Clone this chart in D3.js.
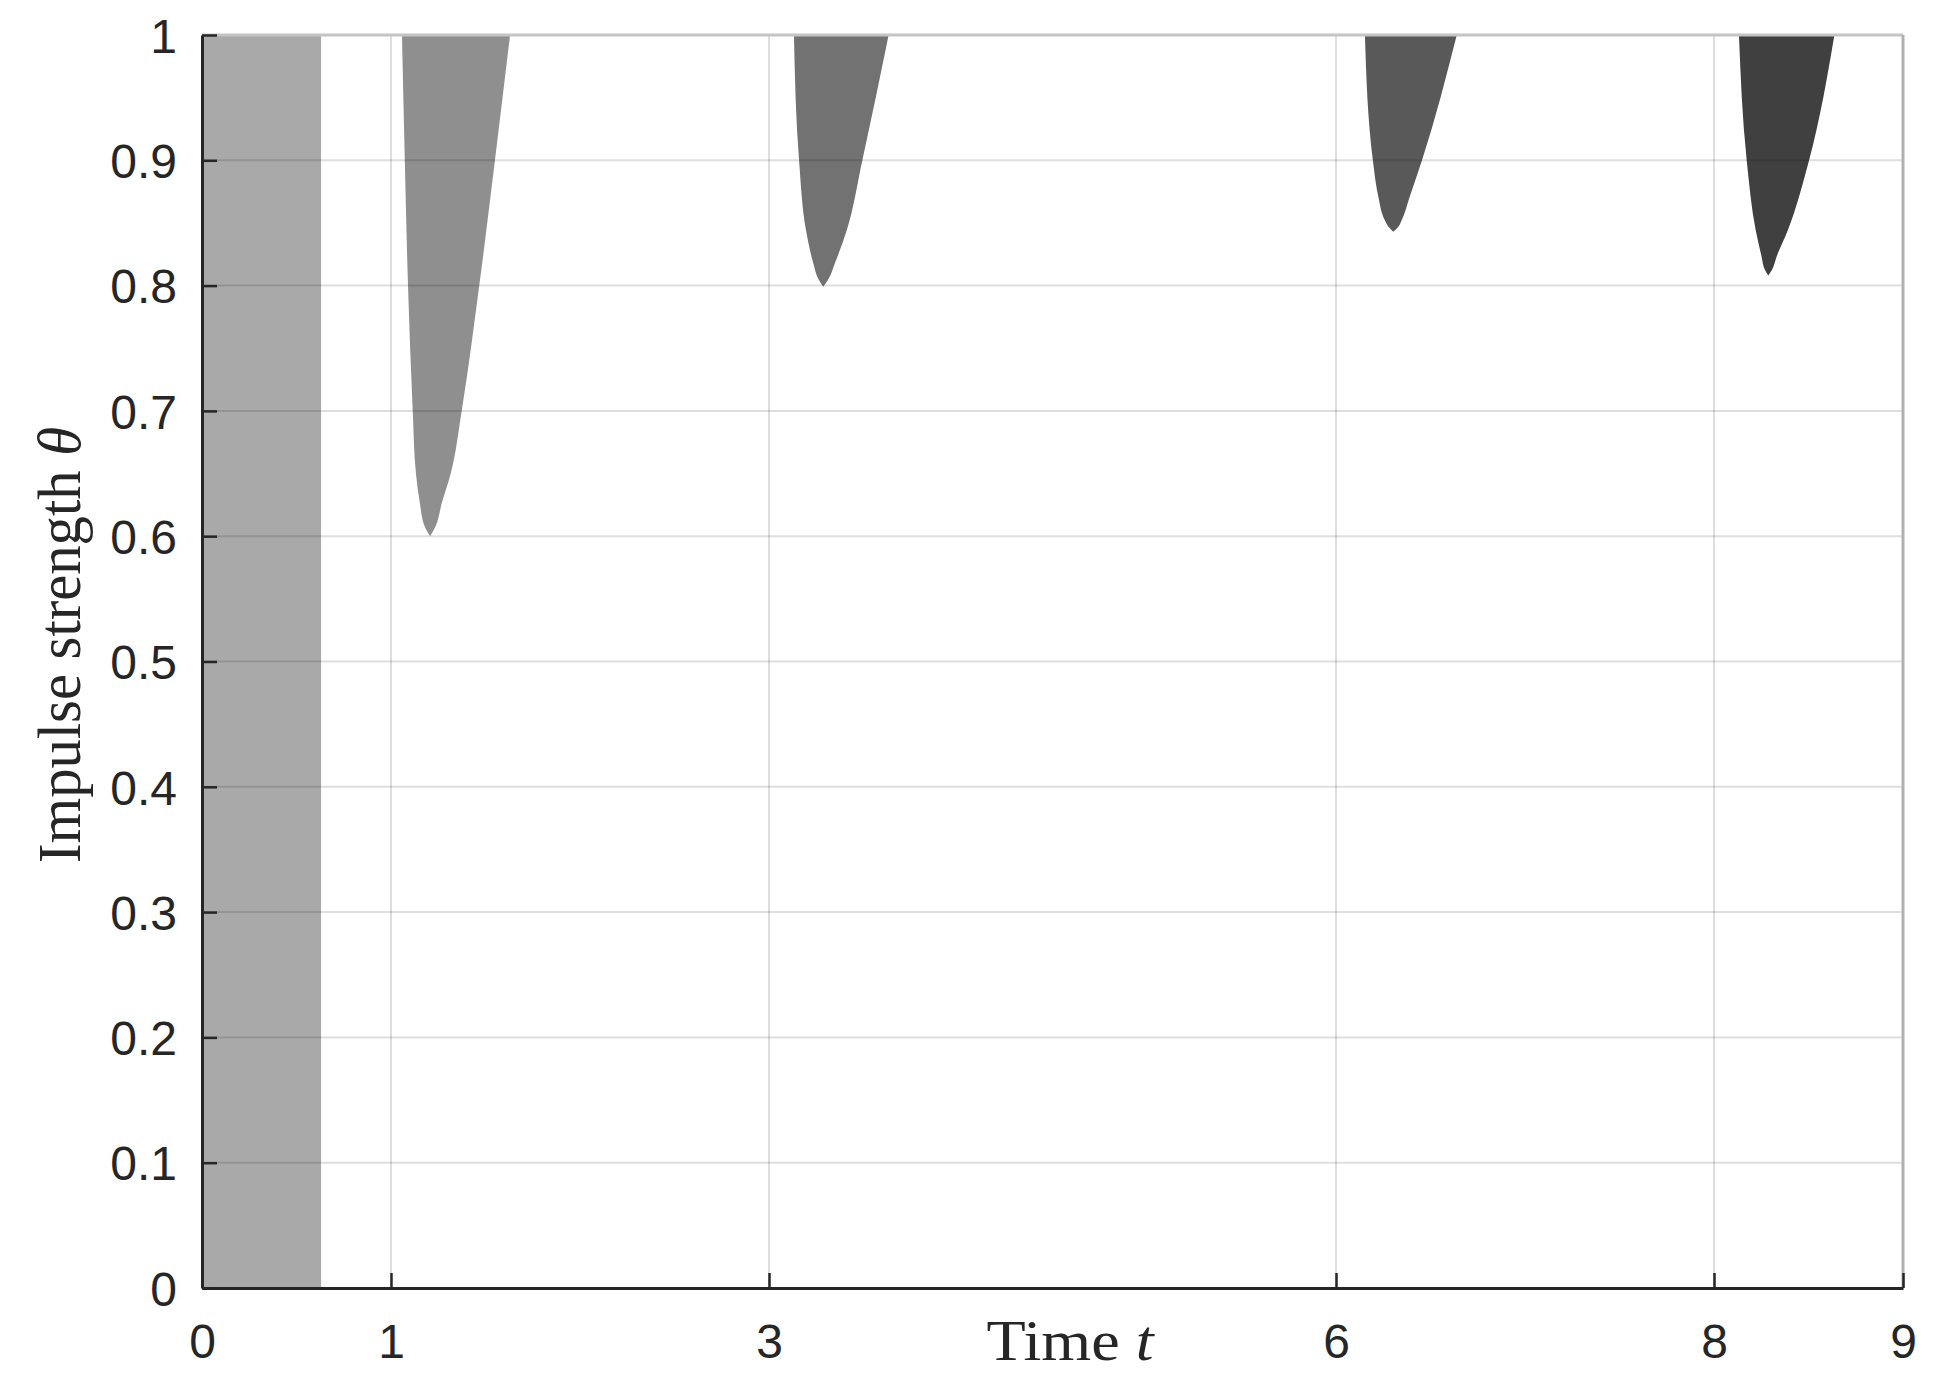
<!DOCTYPE html>
<html>
<head>
<meta charset="utf-8">
<script src="https://cdn.jsdelivr.net/npm/d3@7"></script>
<style>
  body { margin: 0; background: #fff; }
</style>
</head>
<body>
<svg width="1948" height="1396"></svg>
<script>
// tick values
let xTicks = [0, 1, 3, 6, 8, 9]
let yTicks = [0, 0.1, 0.2, 0.3, 0.4, 0.5, 0.6, 0.7, 0.8, 0.9, 1]

// first region: full strip from t=0
let stripT = [0, 0.63]
let stripTheta = [0, 1]

// tongue regions: theta levels (top to tip) with left and right boundary in t
let tongue1Theta = [1.0, 0.9, 0.8, 0.7, 0.65, 0.626, 0.608, 0.6]
let tongue1Left = [1.058, 1.073, 1.090, 1.115, 1.132, 1.153, 1.178, 1.207]
let tongue1Right = [1.630, 1.550, 1.467, 1.374, 1.316, 1.268, 1.236, 1.207]

let tongue2Theta = [1.0, 0.9, 0.844, 0.818, 0.805, 0.799]
let tongue2Left = [3.132, 3.159, 3.196, 3.234, 3.262, 3.287]
let tongue2Right = [3.633, 3.494, 3.411, 3.349, 3.314, 3.287]

let tongue3Theta = [1.0, 0.9, 0.871, 0.852, 0.847, 0.843]
let tongue3Left = [6.153, 6.195, 6.224, 6.259, 6.278, 6.303]
let tongue3Right = [6.639, 6.455, 6.390, 6.347, 6.330, 6.303]

let tongue4Theta = [1.0, 0.9, 0.844, 0.823, 0.813, 0.808]
let tongue4Left = [8.132, 8.173, 8.221, 8.252, 8.268, 8.287]
let tongue4Right = [8.637, 8.503, 8.390, 8.331, 8.308, 8.287]

let tongueColors = ['#8f8f8f', '#727272', '#595959', '#404040']

let svg = d3.select('svg')
let pLeft = 202, pRight = 1903, pTop = 35, pBottom = 1288

let x = d3.scaleLinear().domain([0, 9]).range([pLeft, pRight])
let y = d3.scaleLinear().domain([0, 1]).range([pBottom, pTop])

svg.append('rect')
  .attr('width', 1948).attr('height', 1396).attr('fill', '#fff')

// strip
svg.append('rect')
  .attr('x', x(stripT[0]))
  .attr('y', y(stripTheta[1]))
  .attr('width', x(stripT[1]) - x(stripT[0]))
  .attr('height', y(stripTheta[0]) - y(stripTheta[1]))
  .attr('fill', '#a9a9a9')

// tongues as areas between left and right edge, theta on the vertical
let tongues = [
  [tongue1Theta, tongue1Left, tongue1Right],
  [tongue2Theta, tongue2Left, tongue2Right],
  [tongue3Theta, tongue3Left, tongue3Right],
  [tongue4Theta, tongue4Left, tongue4Right]
]
let area = d3.area()
  .y(function (d) { return y(d[0]) })
  .x0(function (d) { return x(d[1]) })
  .x1(function (d) { return x(d[2]) })
  .curve(d3.curveMonotoneY)

tongues.forEach(function (tg, i) {
  let rows = tg[0].map(function (th, k) { return [th, tg[1][k], tg[2][k]] })
  svg.append('path')
    .attr('d', area(rows))
    .attr('fill', tongueColors[i])
})

// grid, drawn on top like matlab does
let grid = svg.append('g')
  .attr('stroke', '#000')
  .attr('stroke-opacity', 0.13)
  .attr('stroke-width', 2)
grid.selectAll('.gx')
  .data(xTicks.slice(1, -1))
  .enter()
  .append('line')
  .attr('x1', function (d) { return x(d) })
  .attr('x2', function (d) { return x(d) })
  .attr('y1', pTop).attr('y2', pBottom)
grid.selectAll('.gy')
  .data(yTicks.slice(1, -1))
  .enter()
  .append('line')
  .attr('y1', function (d) { return y(d) })
  .attr('y2', function (d) { return y(d) })
  .attr('x1', pLeft).attr('x2', pRight)

// light box on top and right
svg.append('line')
  .attr('x1', pLeft).attr('x2', pRight)
  .attr('y1', pTop).attr('y2', pTop)
  .attr('stroke', '#c4c4c4').attr('stroke-width', 3)
svg.append('line')
  .attr('x1', pRight).attr('x2', pRight)
  .attr('y1', pTop).attr('y2', pBottom)
  .attr('stroke', '#b0b0b0').attr('stroke-width', 3)

// axes with inward ticks
let xAxis = d3.axisBottom(x)
  .tickValues(xTicks)
  .tickSizeInner(-15)
  .tickSizeOuter(0)
  .tickPadding(0)
  .tickFormat(d3.format('d'))
let gx = svg.append('g')
  .attr('transform', 'translate(0,' + pBottom + ')')
  .call(xAxis)
gx.select('.domain').attr('stroke', '#262626').attr('stroke-width', 3)
gx.selectAll('.tick line').attr('stroke', '#262626').attr('stroke-width', 2.5)
gx.selectAll('.tick text')
  .attr('y', 70).attr('dy', 0)
  .attr('fill', '#262626')
  .style('font-family', '"Liberation Sans", Arial, sans-serif')
  .style('font-size', '48px')

let yAxis = d3.axisLeft(y)
  .tickValues(yTicks)
  .tickSizeInner(-15)
  .tickSizeOuter(0)
  .tickPadding(0)
  .tickFormat(function (d) { return d === 0 || d === 1 ? String(d) : d3.format('.1f')(d) })
let gy = svg.append('g')
  .attr('transform', 'translate(' + pLeft + ',0)')
  .call(yAxis)
gy.select('.domain').attr('stroke', '#262626').attr('stroke-width', 3)
gy.selectAll('.tick line').attr('stroke', '#262626').attr('stroke-width', 2.5)
gy.selectAll('.tick text')
  .attr('x', -25).attr('dy', '0.36em')
  .attr('fill', '#262626')
  .style('font-family', '"Liberation Sans", Arial, sans-serif')
  .style('font-size', '48px')

// axis titles
let xl = svg.append('text')
  .attr('x', 1070)
  .attr('y', 1360)
  .attr('text-anchor', 'middle')
  .attr('textLength', 167)
  .attr('lengthAdjust', 'spacingAndGlyphs')
  .attr('fill', '#262626')
  .style('font-family', '"Liberation Serif", "DejaVu Serif", serif')
  .style('font-size', '56px')
xl.append('tspan').text('Time ')
xl.append('tspan').style('font-style', 'italic').text('t')

let yl = svg.append('text')
  .attr('transform', 'translate(80,645) rotate(-90)')
  .attr('text-anchor', 'middle')
  .attr('textLength', 436)
  .attr('lengthAdjust', 'spacingAndGlyphs')
  .attr('fill', '#262626')
  .style('font-family', '"Liberation Serif", "DejaVu Serif", serif')
  .style('font-size', '62px')
yl.append('tspan').text('Impulse strength ')
yl.append('tspan').style('font-style', 'italic').text('θ')
</script>
</body>
</html>
